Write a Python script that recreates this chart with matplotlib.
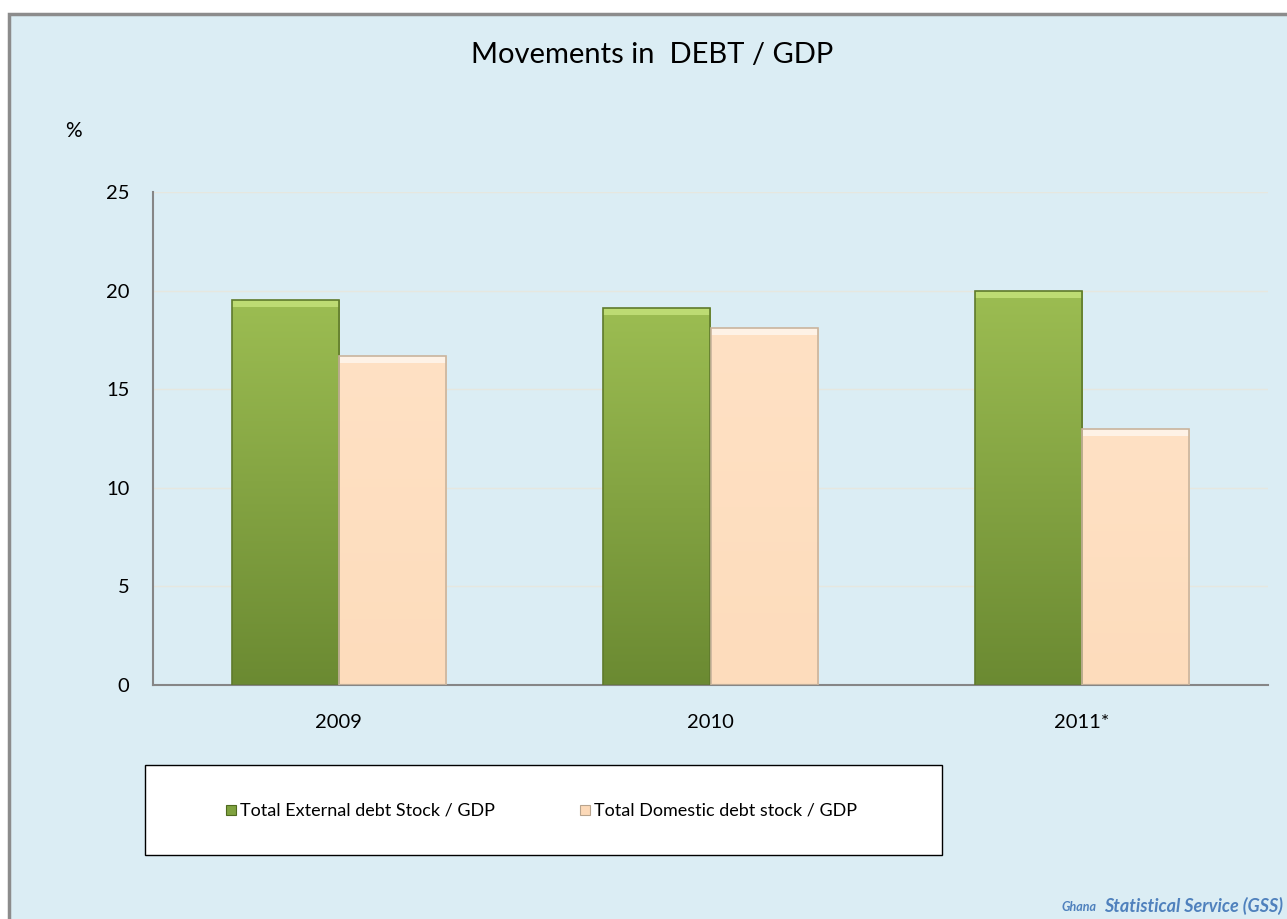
import numpy as np
import matplotlib
matplotlib.use('Agg')
from matplotlib import pyplot as plt
from matplotlib.patches import Rectangle
from matplotlib.colors import LinearSegmentedColormap

years = ['2009', '2010', '2011*']
external_debt = [19.5, 19.1, 20.0]
domestic_debt = [16.7, 18.1, 13.0]
series_names = ['Total External debt Stock / GDP', 'Total Domestic debt stock / GDP']

plt.rcParams['font.family'] = ['Lato', 'DejaVu Sans']

bg = '#dbedf4'
green_cmap = LinearSegmentedColormap.from_list('g', ['#6b8a32', '#9cbd52'])
peach_cmap = LinearSegmentedColormap.from_list('p', ['#fddcbc', '#ffe1c4'])


def gradient_bars(ax, xs, heights, width, cmap, edge, bevel):
    bars = ax.bar(xs, heights, width, color='none', edgecolor=edge, linewidth=1.2, zorder=3)
    grad = np.linspace(0, 1, 256).reshape(-1, 1)
    for b in bars:
        x0, y0 = b.get_x(), b.get_y()
        w, h = b.get_width(), b.get_height()
        im = ax.imshow(grad, cmap=cmap, origin='lower', aspect='auto',
                       extent=(x0, x0 + w, y0, y0 + h), zorder=2)
        im.set_clip_path(b)
        # light bevel on top
        ax.add_patch(Rectangle((x0, y0 + h - 0.35), w, 0.35,
                               color=bevel, alpha=0.6, lw=0, zorder=2.5))
    return bars


fig = plt.figure(figsize=(12.87, 9.19), dpi=100)
fig.patch.set_facecolor('white')
fig.patches.append(Rectangle((9 / 1287, -0.01), 1.01, 1 - 14 / 919 + 0.01,
                             transform=fig.transFigure, facecolor=bg,
                             edgecolor='#8c8c8c', linewidth=2.5, zorder=-1))

ax = fig.add_axes([153 / 1287, 1 - 685 / 919, (1268 - 153) / 1287, (685 - 192) / 919])
ax.set_zorder(1)
ax.set_facecolor(bg)

x = np.arange(len(years))
w = 0.288
b1 = gradient_bars(ax, x - w / 2, external_debt, w, green_cmap, '#5f7a2c', '#d4f08a')
b2 = gradient_bars(ax, x + w / 2, domestic_debt, w, peach_cmap, '#c9b49d', 'white')

ax.set_xlim(-0.5, 2.5)
ax.set_ylim(0, 25)
ax.set_yticks(range(0, 26, 5))
ax.set_xticks(x)
ax.set_xticklabels(years)
ax.tick_params(length=0, labelsize=14.5, pad=21)
ax.tick_params(axis='y', pad=17)
ax.yaxis.grid(True, color='#e6e7df', linewidth=1)
ax.set_axisbelow(True)
for s in ['top', 'right']:
    ax.spines[s].set_visible(False)
for s in ['left', 'bottom']:
    ax.spines[s].set_color('#868686')
    ax.spines[s].set_linewidth(1.5)

fig.text(652 / 1287, 1 - 55 / 919, 'Movements in  DEBT / GDP', ha='center', va='center', fontsize=21)
fig.text(73 / 1287, 1 - 131 / 919, '%', ha='center', va='center', fontsize=15)

# legend box
fig.patches.append(Rectangle((145 / 1287, 1 - 855 / 919), (942 - 145) / 1287, 90 / 919,
                             transform=fig.transFigure, facecolor='white',
                             edgecolor='black', linewidth=1, zorder=0.5))
sw = 10
for xpix, name, fc, ec in [(226, series_names[0], '#7fa23f', '#4f6a20'),
                           (580, series_names[1], '#fcd9b8', '#b8a48e')]:
    fig.patches.append(Rectangle((xpix / 1287, 1 - 815 / 919), sw / 1287, sw / 919,
                                 transform=fig.transFigure, facecolor=fc, edgecolor=ec, lw=0.8,
                                 zorder=0.6))
    fig.text((xpix + sw + 4) / 1287, 1 - 810 / 919, name, ha='left', va='center', fontsize=13)

fig.text(1283 / 1287, 1 - 906 / 919, 'Statistical Service (GSS)', ha='right', va='center',
         fontsize=13, color='#4f81bd', fontweight='bold', style='italic')
fig.text(1096 / 1287, 1 - 907 / 919, 'Ghana', ha='right', va='center', fontsize=9,
         color='#4f81bd', fontweight='bold', style='italic')

fig.savefig('out.png', dpi=100, facecolor=fig.get_facecolor())
